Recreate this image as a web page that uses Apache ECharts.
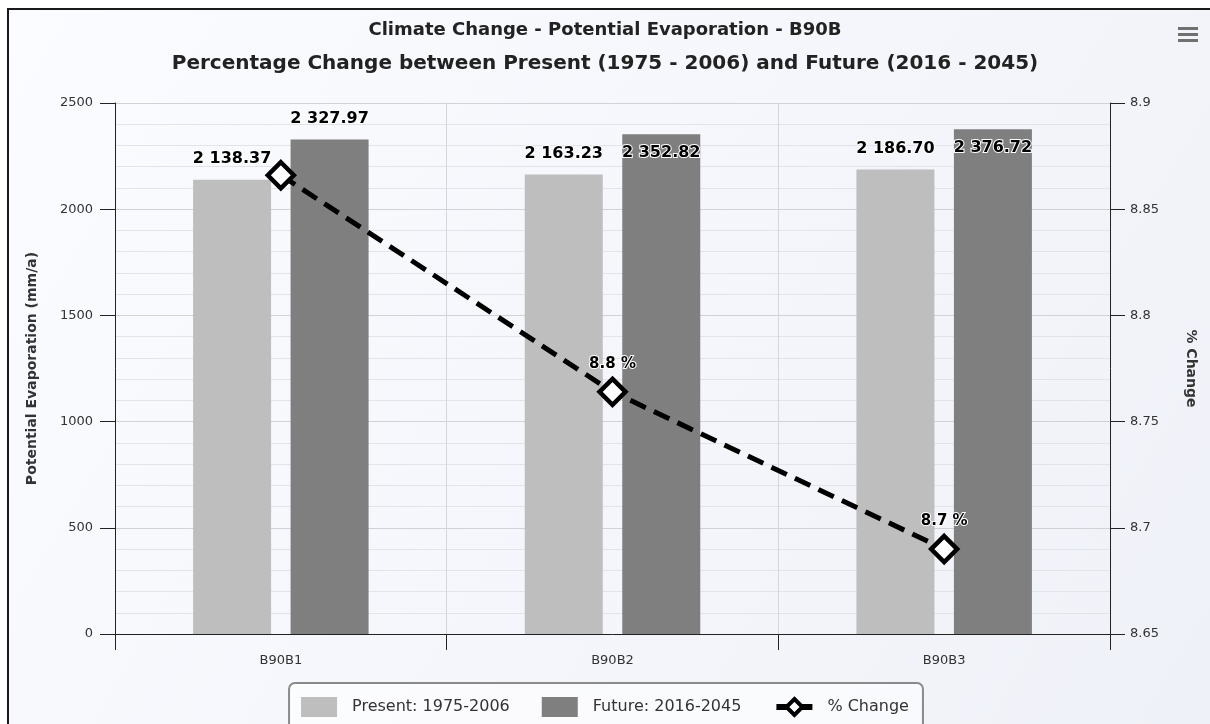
<!DOCTYPE html>
<html>
<head>
<meta charset="utf-8">
<script src="https://cdn.jsdelivr.net/npm/echarts@6/dist/echarts.min.js"></script>
<style>
html,body{margin:0;padding:0;background:#fff;}
#c{width:1210px;height:724px;}
</style>
</head>
<body>
<div id="c"></div>
<script>
var categories = ['B90B1', 'B90B2', 'B90B3'];
var presentValues = [2138.37, 2163.23, 2186.70];
var futureValues = [2327.97, 2352.82, 2376.72];
var pctChange = [8.866, 8.764, 8.690];
var leftAxisTicks = {min: 0, max: 2500, interval: 500};
var rightAxisTicks = {min: 8.65, max: 8.9, interval: 0.05};
var seriesNames = ['Present: 1975-2006', 'Future: 2016-2045', '% Change'];
var titleLines = ['Climate Change - Potential Evaporation - B90B',
  'Percentage Change between Present (1975 - 2006) and Future (2016 - 2045)'];

function fmtNum(v) {
  var s = v.toFixed(2);
  var parts = s.split('.');
  var ip = parts[0].replace(/\B(?=(\d{3})+(?!\d))/g, ' ');
  return ip + '.' + parts[1];
}

var FONT = 'DejaVu Sans';
var barLabel = {
  show: true, position: 'top', distance: 13,
  fontFamily: FONT, fontWeight: 'bold', fontSize: 16, color: '#000',
  textBorderColor: '#fff', textBorderWidth: 2,
  formatter: function (p) { return fmtNum(p.value); }
};

var futureData = futureValues.map(function (v, i) {
  if (i === 0) return v;
  return {value: v, label: {position: 'insideTop', distance: 11}};
});
var pctData = pctChange.map(function (v, i) {
  if (i === 0) return {value: v, label: {show: false}};
  return v;
});

var chart = echarts.init(document.getElementById('c'), null, {renderer: 'canvas'});
chart.setOption({
  animation: false,
  backgroundColor: {
    type: 'linear', x: 0, y: 0, x2: 1, y2: 1,
    colorStops: [{offset: 0, color: '#fbfcff'}, {offset: 1, color: '#eff1f8'}]
  },
  graphic: [
    {type: 'rect', shape: {x: 0, y: 0, width: 1210, height: 9}, style: {fill: '#ffffff'}, z: 0},
    {type: 'rect', shape: {x: 0, y: 0, width: 7, height: 724}, style: {fill: '#ffffff'}, z: 0},
    {type: 'line', shape: {x1: 7, y1: 9, x2: 1210, y2: 9}, style: {stroke: '#1a1a1a', lineWidth: 2}, z: 10},
    {type: 'line', shape: {x1: 8, y1: 9, x2: 8, y2: 724}, style: {stroke: '#1a1a1a', lineWidth: 2}, z: 10},
    {type: 'rect', shape: {x: 1178, y: 27, width: 20, height: 3}, style: {fill: '#707070'}, z: 10},
    {type: 'rect', shape: {x: 1178, y: 33, width: 20, height: 3}, style: {fill: '#707070'}, z: 10},
    {type: 'rect', shape: {x: 1178, y: 39, width: 20, height: 3}, style: {fill: '#707070'}, z: 10}
  ],
  title: [
    {text: titleLines[0], left: 'center', top: 16,
     textStyle: {fontFamily: FONT, fontWeight: 'bold', fontSize: 18, color: '#222'}},
    {text: titleLines[1], left: 'center', top: 49,
     textStyle: {fontFamily: FONT, fontWeight: 'bold', fontSize: 20, color: '#222'}}
  ],
  legend: {
    top: 683, left: 'center',
    data: [
      {name: seriesNames[0], icon: 'rect'},
      {name: seriesNames[1], icon: 'rect'},
      {name: seriesNames[2], lineStyle: {width: 6, type: 'solid', color: '#000'},
       itemStyle: {color: '#fff', borderColor: '#000', borderWidth: 4}}
    ],
    itemWidth: 36, itemHeight: 20, itemGap: 32,
    padding: [14, 14, 14, 12],
    borderColor: '#8a8a8a', borderWidth: 2, borderRadius: 6,
    backgroundColor: 'rgba(255,255,255,0.6)',
    textStyle: {fontFamily: FONT, fontSize: 16, color: '#333', padding: [0, 0, 0, 10]}
  },
  grid: {left: 115, right: 100, top: 103, bottom: 90, containLabel: false},
  xAxis: {
    type: 'category', data: categories,
    axisLine: {show: true, lineStyle: {color: '#222', width: 1}},
    axisTick: {show: true, length: 16, lineStyle: {color: '#222'}},
    axisLabel: {fontFamily: FONT, fontSize: 13, color: '#333', margin: 20},
    splitLine: {show: true, lineStyle: {color: '#d4d6dc', width: 1}}
  },
  yAxis: [
    {
      type: 'value', min: leftAxisTicks.min, max: leftAxisTicks.max, interval: leftAxisTicks.interval,
      name: 'Potential Evaporation (mm/a)', nameLocation: 'middle', nameGap: 76, nameRotate: 90,
      nameTextStyle: {fontFamily: FONT, fontWeight: 'bold', fontSize: 14, color: '#333'},
      axisLine: {show: true, lineStyle: {color: '#222', width: 1}},
      axisTick: {show: true, length: 15, lineStyle: {color: '#222'}},
      axisLabel: {fontFamily: FONT, fontSize: 13, color: '#333', margin: 22,
        formatter: function (v) { return String(v); }},
      splitLine: {show: true, lineStyle: {color: '#d0d2d8', width: 1}},
      minorTick: {show: false, splitNumber: 5},
      minorSplitLine: {show: true, lineStyle: {color: '#e2e4ea', width: 1}}
    },
    {
      type: 'value', position: 'right',
      min: rightAxisTicks.min, max: rightAxisTicks.max, interval: rightAxisTicks.interval,
      name: '% Change', nameLocation: 'middle', nameGap: 74, nameRotate: -90,
      nameTextStyle: {fontFamily: FONT, fontWeight: 'bold', fontSize: 14, color: '#333'},
      axisLine: {show: true, lineStyle: {color: '#222', width: 1}},
      axisTick: {show: true, length: 15, lineStyle: {color: '#222'}},
      axisLabel: {fontFamily: FONT, fontSize: 13, color: '#333', margin: 20,
        formatter: function (v) { return String(parseFloat(v.toFixed(2))); }},
      splitLine: {show: false}
    }
  ],
  series: [
    {
      name: seriesNames[0], type: 'bar', yAxisIndex: 0, data: presentValues,
      barWidth: 78, barGap: '25%',
      itemStyle: {color: '#bebebe'},
      label: barLabel
    },
    {
      name: seriesNames[1], type: 'bar', yAxisIndex: 0, data: futureData,
      barWidth: 78, barGap: '25%',
      itemStyle: {color: '#7f7f7f'},
      label: barLabel
    },
    {
      name: seriesNames[2], type: 'line', yAxisIndex: 1, data: pctData,
      symbol: 'diamond', symbolSize: 26,
      lineStyle: {color: '#000', width: 5, type: [17, 9]},
      itemStyle: {color: '#fff', borderColor: '#000', borderWidth: 4.5},
      label: {
        show: true, position: 'top', distance: 5,
        fontFamily: FONT, fontWeight: 'bold', fontSize: 15, color: '#000',
        textBorderColor: '#fff', textBorderWidth: 2,
        formatter: function (p) { return p.value.toFixed(1) + ' %'; }
      },
      z: 5
    }
  ]
});
</script>
</body>
</html>
